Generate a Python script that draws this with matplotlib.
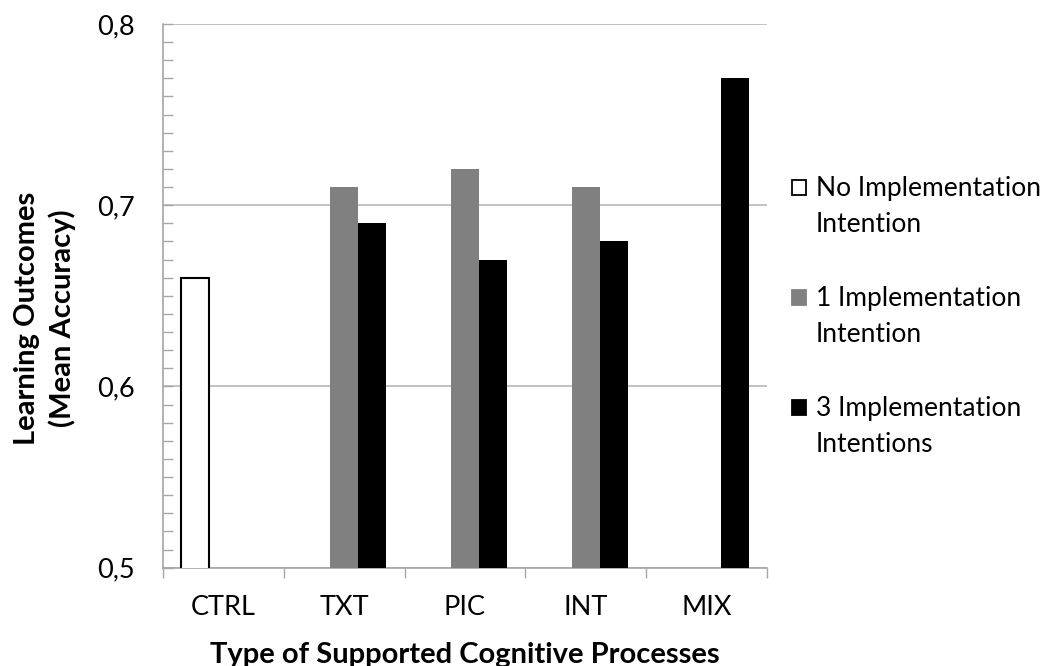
import numpy as np
import matplotlib
matplotlib.use("Agg")
import matplotlib.pyplot as plt
from matplotlib.patches import Rectangle
from matplotlib.ticker import MultipleLocator, FixedLocator, NullFormatter

plt.rcParams["font.family"] = ["Lato", "DejaVu Sans"]

# Data
categories = ["CTRL", "TXT", "PIC", "INT", "MIX"]
no_impl = [0.66, np.nan, np.nan, np.nan, np.nan]
one_impl = [np.nan, 0.71, 0.72, 0.71, np.nan]
three_impl = [np.nan, 0.69, 0.67, 0.68, 0.77]
series_labels = [("No Implementation", "Intention"),
                 ("1 Implementation", "Intention"),
                 ("3 Implementation", "Intentions")]
y_ticks = [0.5, 0.6, 0.7, 0.8]

W, H = 1045, 666
fig = plt.figure(figsize=(W / 100, H / 100), dpi=100)
ax = fig.add_axes([163 / W, 1 - 567.7 / H, (767 - 163) / W, (567.7 - 24) / H])

axis_grey = "#a6a6a6"
grid_grey = "#b8b8b8"
fs = 19.5
title_fs = 21

x = np.arange(len(categories))
bw = 0.232
ax.bar(x - bw, no_impl, bw, color="white", edgecolor="black", linewidth=1.5, zorder=3)
ax.bar(x, one_impl, bw, color="#808080", linewidth=0, zorder=3)
ax.bar(x + bw, three_impl, bw, color="black", linewidth=0, zorder=3)

ax.set_xlim(-0.5, len(categories) - 0.5)
ax.set_ylim(0.5, 0.8)

# y axis
ax.yaxis.set_major_locator(FixedLocator(y_ticks))
ax.yaxis.set_minor_locator(MultipleLocator(0.01))
ax.set_yticklabels([f"{v:.1f}".replace(".", ",") for v in y_ticks])
ax.tick_params(axis="y", which="both", direction="in", length=7, width=1,
               color=axis_grey, labelsize=fs, pad=20)
ax.yaxis.grid(True, which="major", color=grid_grey, linewidth=1.2, zorder=0)

# x axis: ticks on category boundaries, labels on centers
ax.xaxis.set_major_locator(FixedLocator(np.arange(len(categories) + 1) - 0.5))
ax.xaxis.set_major_formatter(NullFormatter())
ax.xaxis.set_minor_locator(FixedLocator(x))
ax.set_xticks(x, categories, minor=True)
ax.tick_params(axis="x", which="major", direction="out", length=7.5, width=1,
               color=axis_grey)
ax.tick_params(axis="x", which="minor", length=0, labelsize=fs, pad=20)
ax.set_axisbelow(True)

for s in ("top", "right"):
    ax.spines[s].set_visible(False)
for s in ("left", "bottom"):
    ax.spines[s].set_color(axis_grey)
    ax.spines[s].set_linewidth(1.2)

# Axis titles
fig.text(45 / W, 1 - 318 / H, "Learning Outcomes\n(Mean Accuracy)", rotation=90,
         ha="center", va="center", multialignment="center",
         fontsize=title_fs, fontweight="bold", linespacing=1.35)
fig.text(465 / W, 1 - 663 / H, "Type of Supported Cognitive Processes",
         ha="center", va="baseline", fontsize=title_fs, fontweight="bold")

# Legend
faces = ["white", "#808080", "black"]
edges = ["black", "#808080", "black"]
for i, (face, edge, (l1, l2)) in enumerate(zip(faces, edges, series_labels)):
    base = 196 + 110 * i
    fig.add_artist(Rectangle((792 / W, 1 - (base - 1) / H), 14 / W, 15 / H,
                             transform=fig.transFigure, facecolor=face,
                             edgecolor=edge, linewidth=1.3))
    fig.text(816 / W, 1 - base / H, l1, ha="left", va="baseline", fontsize=19)
    fig.text(816 / W, 1 - (base + 36) / H, l2, ha="left", va="baseline", fontsize=19)

fig.savefig("out.png", dpi=100)
